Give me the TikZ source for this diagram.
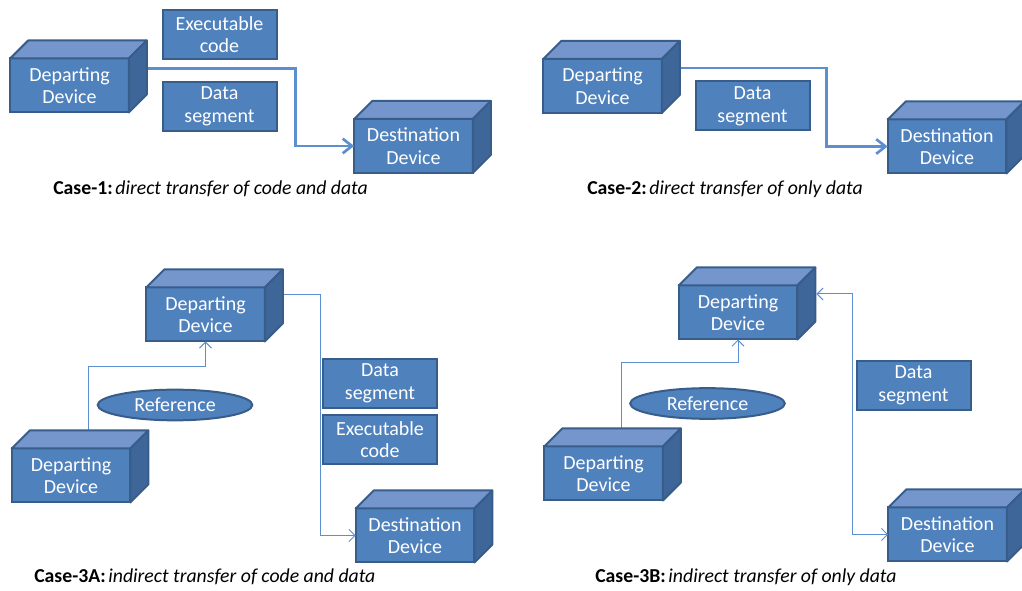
\documentclass[tikz,border=0pt]{standalone}
\usepackage{fontspec}
\setmainfont{Carlito}
\usetikzlibrary{arrows.meta,shapes.geometric,calc}
\definecolor{boxblue}{HTML}{4F81BD}
\definecolor{boxedge}{HTML}{385D8A}
\definecolor{boxtop}{HTML}{7496CC}
\definecolor{boxside}{HTML}{3E6699}
\definecolor{linkblue}{HTML}{5B8FD0}
\tikzset{
  front/.style={draw=boxedge, fill=boxblue, line width=1.5pt, outer sep=0pt, inner sep=0pt,
    text=white, align=center, font=\fontsize{15}{17}\selectfont},
  device/.style={front, minimum width=89pt, minimum height=40.5pt},
  segment/.style={front, minimum width=85.5pt, minimum height=36.75pt},
  refoval/.style={front, ellipse, minimum width=116pt, minimum height=23pt},
  topface/.style={draw=boxedge, fill=boxtop, line width=1.5pt, line join=round},
  sideface/.style={draw=boxedge, fill=boxside, line width=1.5pt, line join=round},
  thickarrow/.style={-{Straight Barb[length=7pt,width=11pt]}, draw=linkblue, line width=2pt},
  thinarrow/.style={-{Straight Barb[length=4.5pt,width=9pt]}, draw=linkblue, line width=0.75pt},
  caption/.style={anchor=west, inner sep=0pt, font=\fontsize{14.8}{17}\selectfont}
}

\begin{document}
\begin{tikzpicture}[x=0.75pt, y=-0.75pt]
  \useasboundingbox (0,0) rectangle (1022,591);

  % case 1
  \node[device] (dep1) at (69.5,85.5) {Departing\\Device};
  \node[segment] (exec1) at (219.5,34.5) {Executable\\code};
  \node[segment] (data1) at (219.5,106.5) {Data\\segment};
  \node[device] (dest1) at (413.5,146) {Destination\\Device};
  \draw[thickarrow] ([shift={(18,-17)}]dep1.east) -| ($(dest1.west)+(-59,0)$) -- (dest1.west);
  \node[caption] (cap1) at (53,189) {\textbf{Case-1:}\hspace{2pt}\textit{direct transfer of code and data}};

  % case 2
  \node[device] (dep2) at (602.5,86) {Departing\\Device};
  \node[segment] (data2) at (752.5,106) {Data\\segment};
  \node[device] (dest2) at (947,146.5) {Destination\\Device};
  \draw[thickarrow] ([shift={(18,-18)}]dep2.east) -| ($(dest2.west)+(-61,0)$) -- (dest2.west);
  \node[caption] (cap2) at (587,189) {\textbf{Case-2:}\hspace{2pt}\textit{direct transfer of only data}};

  % case 3A
  \node[device] (depA) at (205.5,314.5) {Departing\\Device};
  \node[device] (srcA) at (71,475.5) {Departing\\Device};
  \node[refoval] (refA) at (175,405) {Reference};
  \node[segment] (dataA) at (380,383.5) {Data\\segment};
  \node[segment] (execA) at (380,439.5) {Executable\\code};
  \node[device] (destA) at (415,535.5) {Destination\\Device};
  \draw[thinarrow] ([shift={(17,-18)}]srcA.north) |- ($(depA.south)+(0,25)$) -- (depA.south);
  \draw[thinarrow] ([shift={(18,-19.5)}]depA.east) -| ($(destA.west)+(-35,0)$) -- (destA.west);
  \node[caption] (cap3a) at (34,577) {\textbf{Case-3A:}\hspace{2pt}\textit{indirect transfer of code and data}};

  % case 3B
  \node[device] (depB) at (738,312.5) {Departing\\Device};
  \node[device] (srcB) at (603.5,473.5) {Departing\\Device};
  \node[refoval] (refB) at (707.5,403.5) {Reference};
  \node[segment] (dataB) at (913.5,385.5) {Data\\segment};
  \node[device] (destB) at (947.5,534.5) {Destination\\Device};
  \draw[thinarrow] ([shift={(18,-18)}]srcB.north) |- ($(depB.south)+(0,23)$) -- (depB.south);
  \draw[thinarrow, {Straight Barb[length=4.5pt,width=9pt]}-{Straight Barb[length=4.5pt,width=9pt]}]
    ([shift={(19,-18.5)}]depB.east) -| ($(destB.west)+(-36,0)$) -- (destB.west);
  \node[caption] (cap3b) at (595,577) {\textbf{Case-3B:}\hspace{2pt}\textit{indirect transfer of only data}};

  % top and side faces of the boxes
  \foreach \n in {dep1,dest1,dep2,dest2,depA,srcA,destA,depB,srcB,destB} {
    \filldraw[topface] (\n.north west) -- ++(18,-18) -- ([shift={(18,-18)}]\n.north east) -- (\n.north east) -- cycle;
    \filldraw[sideface] (\n.north east) -- ++(18,-18) -- ([shift={(18,-18)}]\n.south east) -- (\n.south east) -- cycle;
  }
\end{tikzpicture}
\end{document}
